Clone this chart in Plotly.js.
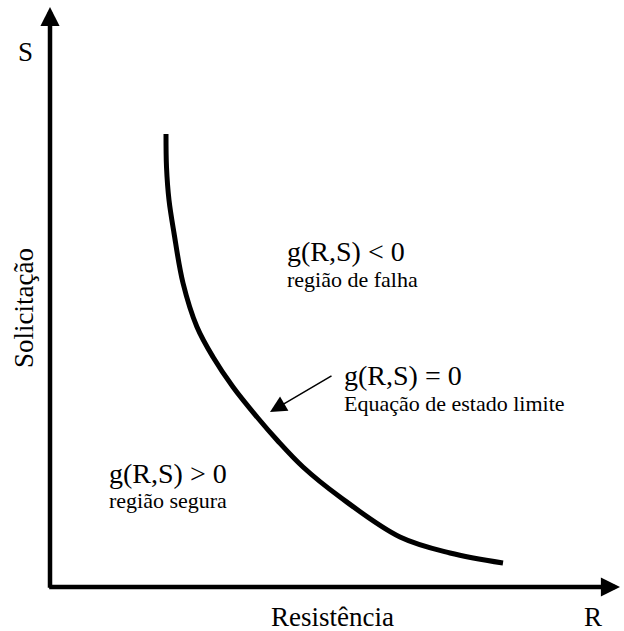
<!DOCTYPE html>
<html>
<head>
<meta charset="utf-8">
<script src="https://cdn.plot.ly/plotly-3.0.1.min.js"></script>
<style>html,body{margin:0;padding:0;background:#fff;}#chart{width:624px;height:631px;}</style>
</head>
<body>
<div id="chart"></div>
<script>
// Limit-state curve g(R,S)=0 (R = resistência, S = solicitação)
const curveR = [116, 116.5, 119, 124, 133, 147, 163, 183, 207, 227, 253, 290, 350, 400, 453];
const curveS = [453, 420, 387, 354, 304, 260, 230, 200, 170, 147, 120, 90, 50, 34, 24];

// Axis extents (arrow tips)
const axisRmax = 570;
const axisSmax = 580;

// Region labels
const labelTitles = ["g(R,S) < 0", "g(R,S) = 0", "g(R,S) > 0"];
const labelSubs = ["região de falha", "Equação de estado limite", "região segura"];
const labelR = [235, 292, 57];
const labelS = [336, 212, 114];
const labelSubS = [308, 184, 87];

// Pointer arrow for the limit-state equation
const pointerTip = [220, 175];
const pointerTail = [283, 212];

const font = "Liberation Serif";

const traces = [{
  x: curveR, y: curveS, type: "scatter", mode: "lines",
  line: {color: "#000", width: 5, shape: "spline", smoothing: 1.0},
  hoverinfo: "skip", showlegend: false
}];

const annotations = [];
// axes with arrowheads
annotations.push({x: 0, y: axisSmax, ax: 0, ay: -2.3, xref: "x", yref: "y", axref: "x", ayref: "y",
  showarrow: true, arrowhead: 2, arrowwidth: 4.5, arrowsize: 0.85, arrowcolor: "#000", text: ""});
annotations.push({x: axisRmax, y: 0, ax: -2.3, ay: 0, xref: "x", yref: "y", axref: "x", ayref: "y",
  showarrow: true, arrowhead: 2, arrowwidth: 4.5, arrowsize: 0.85, arrowcolor: "#000", text: ""});
// pointer
annotations.push({x: pointerTip[0], y: pointerTip[1], ax: pointerTail[0], ay: pointerTail[1],
  xref: "x", yref: "y", axref: "x", ayref: "y", showarrow: true, arrowhead: 2,
  arrowwidth: 1.5, arrowsize: 2.2, arrowcolor: "#000", text: ""});

// axis labels
annotations.push({x: -25, y: 535, xref: "x", yref: "y", text: "S", showarrow: false,
  font: {family: font, size: 27, color: "#000"}});
annotations.push({x: 543, y: -30, xref: "x", yref: "y", text: "R", showarrow: false,
  font: {family: font, size: 27, color: "#000"}});
annotations.push({x: 282, y: -30, xref: "x", yref: "y", text: "Resistência", showarrow: false,
  font: {family: font, size: 27, color: "#000"}});
annotations.push({x: -26, y: 279, xref: "x", yref: "y", text: "Solicitação", showarrow: false,
  textangle: -90, font: {family: font, size: 27, color: "#000"}});

for (let i = 0; i < labelTitles.length; i++) {
  annotations.push({x: labelR[i], y: labelS[i], xref: "x", yref: "y", text: labelTitles[i],
    showarrow: false, xanchor: "left", yanchor: "middle",
    font: {family: font, size: 28, color: "#000"}});
  annotations.push({x: labelR[i], y: labelSubS[i], xref: "x", yref: "y", text: labelSubs[i],
    showarrow: false, xanchor: "left", yanchor: "middle",
    font: {family: font, size: 22, color: "#000"}});
}

const layout = {
  width: 624, height: 631,
  margin: {l: 0, r: 0, t: 0, b: 0},
  paper_bgcolor: "#fff", plot_bgcolor: "#fff",
  font: {family: font},
  xaxis: {range: [-50, 574], visible: false, fixedrange: true},
  yaxis: {range: [-44, 587], visible: false, fixedrange: true},
  annotations: annotations,
  showlegend: false
};

Plotly.newPlot("chart", traces, layout, {staticPlot: true});
</script>
</body>
</html>
